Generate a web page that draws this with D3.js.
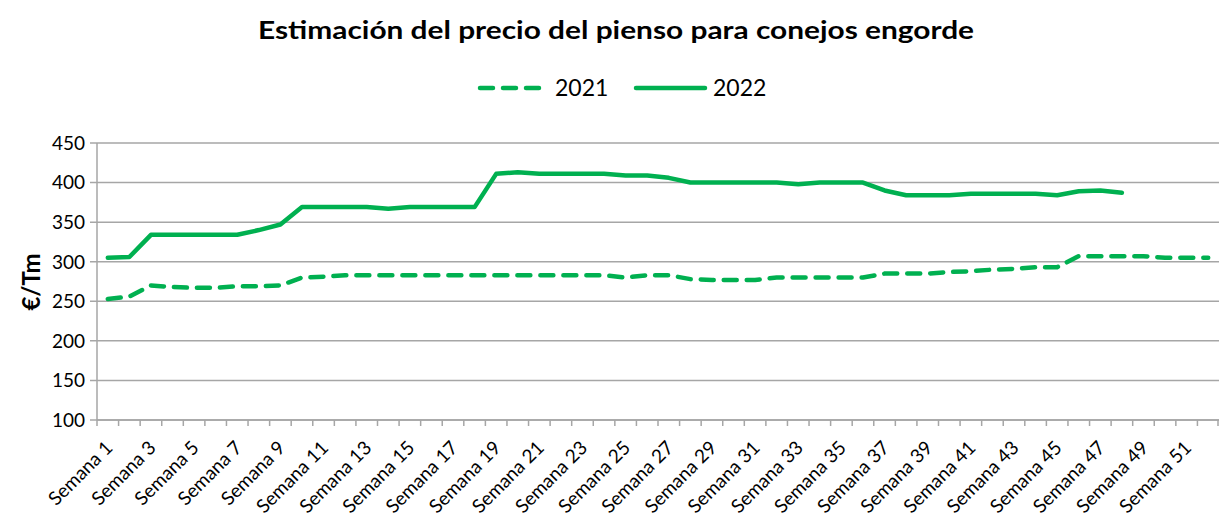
<!DOCTYPE html>
<html>
<head>
<meta charset="utf-8">
<script src="https://cdn.jsdelivr.net/npm/d3@7/dist/d3.min.js"></script>
<style>
  body { margin: 0; background: #fff; }
  svg { display: block; font-family: Lato, 'Open Sans', sans-serif; }
</style>
</head>
<body>
<div id="chart"></div>
<script>
// weekly feed price estimates (€/Tm)
const weeks = d3.range(1, 53).map(n => 'Semana ' + n);
const precio2021 = [
  253, 256, 270, 268, 267, 267, 269, 269, 270, 280,
  281, 283, 283, 283, 283, 283, 283, 283, 283, 283,
  283, 283, 283, 283, 280, 283, 283, 278, 277, 277,
  277, 280, 280, 280, 280, 280, 285, 285, 285, 287,
  288, 290, 291, 293, 293, 307, 307, 307, 307, 305,
  305, 305
];
const precio2022 = [
  305, 306, 334, 334, 334, 334, 334, 340, 347, 369,
  369, 369, 369, 367, 369, 369, 369, 369, 411, 413,
  411, 411, 411, 411, 409, 409, 406, 400, 400, 400,
  400, 400, 398, 400, 400, 400, 390, 384, 384, 384,
  386, 386, 386, 386, 384, 389, 390, 387
];
const yTicks = [100, 150, 200, 250, 300, 350, 400, 450];
const seriesNames = ['2021', '2022'];

const svgWidth = 1219;
const svgHeight = 516;
const margin = {top: 143, right: 0, bottom: 96, left: 97};
const green = '#00b050';
const gridColor = '#a6a6a6';

const svg = d3.select('#chart').append('svg')
  .attr('width', svgWidth)
  .attr('height', svgHeight);

const x = d3.scaleBand()
  .domain(weeks)
  .range([margin.left, svgWidth - margin.right])
  .padding(0);

const y = d3.scaleLinear()
  .domain([100, 450])
  .range([svgHeight - margin.bottom, margin.top]);

const cx = (d, i) => x(weeks[i]) + x.bandwidth() / 2;

// title
svg.append('text')
  .attr('x', 616)
  .attr('y', 39)
  .attr('text-anchor', 'middle')
  .attr('font-size', 24)
  .attr('font-weight', 'bold')
  .attr('textLength', 716)
  .attr('lengthAdjust', 'spacingAndGlyphs')
  .text('Estimación del precio del pienso para conejos engorde');

// gridlines
svg.append('g')
  .selectAll('line')
  .data(yTicks)
  .enter().append('line')
  .attr('x1', margin.left - 7)
  .attr('x2', svgWidth - margin.right)
  .attr('y1', d => y(d))
  .attr('y2', d => y(d))
  .attr('stroke', gridColor)
  .attr('stroke-width', 1.5);

// y labels
svg.append('g')
  .selectAll('text')
  .data(yTicks)
  .enter().append('text')
  .attr('x', 85)
  .attr('y', d => y(d))
  .attr('dy', '0.36em')
  .attr('text-anchor', 'end')
  .attr('font-size', 19)
  .attr('fill', '#000')
  .text(d => d);

// y axis title
svg.append('text')
  .attr('transform', 'translate(40,282) rotate(-90)')
  .attr('text-anchor', 'middle')
  .attr('font-size', 24)
  .attr('font-weight', 'bold')
  .text('€/Tm');

// axes lines
svg.append('line')
  .attr('x1', margin.left).attr('x2', margin.left)
  .attr('y1', y(450)).attr('y2', y(100))
  .attr('stroke', gridColor).attr('stroke-width', 1.5);

svg.append('line')
  .attr('x1', margin.left).attr('x2', svgWidth)
  .attr('y1', y(100)).attr('y2', y(100))
  .attr('stroke', gridColor).attr('stroke-width', 1.5);

// x ticks on category boundaries
svg.append('g')
  .selectAll('line')
  .data(weeks.concat(['end']))
  .enter().append('line')
  .attr('x1', (d, i) => i < weeks.length ? x(d) : x.range()[1] - 1)
  .attr('x2', (d, i) => i < weeks.length ? x(d) : x.range()[1] - 1)
  .attr('y1', y(100))
  .attr('y2', y(100) + 6)
  .attr('stroke', gridColor)
  .attr('stroke-width', 1.5);

// x labels, every other week
svg.append('g')
  .selectAll('text')
  .data(weeks.filter((d, i) => i % 2 === 0))
  .enter().append('text')
  .attr('transform', d => 'translate(' + (x(d) + x.bandwidth() / 2 + 6) + ',' + (y(100) + 29) + ') rotate(-45)')
  .attr('text-anchor', 'end')
  .attr('font-size', 19)
  .attr('fill', '#000')
  .text(d => d);

// lines
const line = d3.line()
  .x(cx)
  .y(d => y(d));

svg.append('path')
  .datum(precio2021)
  .attr('d', line)
  .attr('fill', 'none')
  .attr('stroke', green)
  .attr('stroke-width', 4.5)
  .attr('stroke-linecap', 'round')
  .attr('stroke-linejoin', 'round')
  .attr('stroke-dasharray', '13,10');

svg.append('path')
  .datum(precio2022)
  .attr('d', line)
  .attr('fill', 'none')
  .attr('stroke', green)
  .attr('stroke-width', 4.5)
  .attr('stroke-linecap', 'round')
  .attr('stroke-linejoin', 'round');

// legend
const legend = svg.append('g')
  .attr('font-size', 23);

const legendItems = [
  {name: seriesNames[0], x1: 480, x2: 540, tx: 555, dash: '13,10'},
  {name: seriesNames[1], x1: 636, x2: 705, tx: 713, dash: null}
];

const item = legend.selectAll('g')
  .data(legendItems)
  .enter().append('g');

item.append('line')
  .attr('x1', d => d.x1)
  .attr('x2', d => d.x2)
  .attr('y1', 88)
  .attr('y2', 88)
  .attr('stroke', green)
  .attr('stroke-width', 4.5)
  .attr('stroke-linecap', 'round')
  .attr('stroke-dasharray', d => d.dash);

item.append('text')
  .attr('x', d => d.tx)
  .attr('y', 88)
  .attr('dy', '0.36em')
  .text(d => d.name);
</script>
</body>
</html>
